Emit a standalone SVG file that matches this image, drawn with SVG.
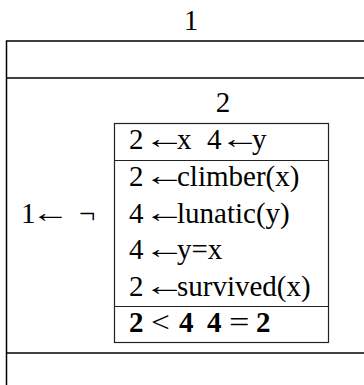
<svg xmlns="http://www.w3.org/2000/svg" width="364" height="385" viewBox="0 0 364 385">
<style>
.t{font-family:"Liberation Serif","DejaVu Serif",serif;font-size:29px;fill:#000}
.b{font-weight:bold}
.o{fill:none;stroke:#000;stroke-width:1.5}
.i{fill:none;stroke:#222;stroke-width:1.2}
</style>
<defs>
<text id="arr" class="t" x="0" y="-1">←</text>
</defs>
<rect width="364" height="385" fill="#fff"/>
<g id="outer">
<rect class="o" x="6.5" y="41" width="400" height="400"/>
<line class="o" x1="6.5" y1="78" x2="370" y2="78"/>
<line class="o" x1="6.5" y1="353" x2="370" y2="353"/>
<text class="t" x="191" y="30" text-anchor="middle">1</text>
</g>
<g id="negation">
<text class="t" x="21" y="223">1</text>
<use href="#arr" transform="translate(31.3,223) scale(1.32,1)"/>
<text class="t" x="79" y="223">¬</text>
</g>
<g id="inner">
<text class="t" x="223" y="112" text-anchor="middle">2</text>
<rect class="i" x="114.5" y="123.5" width="214" height="219"/>
<line class="i" x1="114.5" y1="160.5" x2="328.5" y2="160.5"/>
<line class="i" x1="114.5" y1="306.5" x2="328.5" y2="306.5"/>
<text class="t" x="129" y="149">2</text>
<use href="#arr" transform="translate(143.7,149) scale(1.437,1)"/>
<text class="t" x="177" y="149">x</text>
<text class="t" x="207" y="149">4</text>
<use href="#arr" transform="translate(220,149) scale(1.38,1)"/>
<text class="t" x="252" y="149">y</text>
<text class="t" x="129" y="186">2</text>
<use href="#arr" transform="translate(143.7,186) scale(1.437,1)"/>
<text class="t" x="177" y="186">climber(x)</text>
<text class="t" x="129" y="223">4</text>
<use href="#arr" transform="translate(143.7,223) scale(1.437,1)"/>
<text class="t" x="177" y="223">lunatic(y)</text>
<text class="t" x="129" y="259">4</text>
<use href="#arr" transform="translate(143.7,259) scale(1.437,1)"/>
<text class="t" x="177" y="259">y=x</text>
<text class="t" x="129" y="296">2</text>
<use href="#arr" transform="translate(143.7,296) scale(1.437,1)"/>
<text class="t" x="177" y="296">survived(x)</text>
<text class="t b" x="129" y="332">2</text>
<text class="t" transform="translate(151,332) scale(1.15,1)">&lt;</text>
<text class="t b" x="179" y="332">4</text>
<text class="t b" x="207" y="332">4</text>
<text class="t" transform="translate(229,332) scale(1.25,1)">=</text>
<text class="t b" x="256" y="332">2</text>
</g>
</svg>
